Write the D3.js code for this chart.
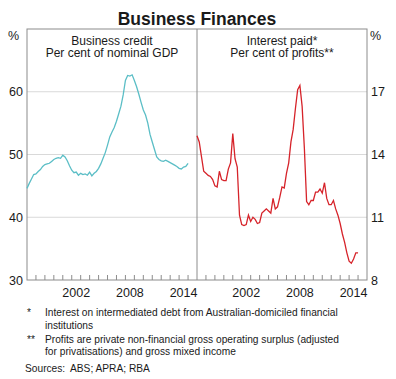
<!DOCTYPE html>
<html><head><meta charset="utf-8">
<script src="https://cdn.jsdelivr.net/npm/d3@7"></script>
<style>
html,body{margin:0;padding:0;background:#fff;}
svg text{font-family:"Liberation Sans",Arial,sans-serif;fill:#1a1a1a;}
</style></head>
<body><svg id="c" width="396" height="379"></svg>
<script>
// ---- Data ----
const quarters = [
1997.00,1997.25,1997.50,1997.75,1998.00,1998.25,1998.50,1998.75,
1999.00,1999.25,1999.50,1999.75,2000.00,2000.25,2000.50,2000.75,
2001.00,2001.25,2001.50,2001.75,2002.00,2002.25,2002.50,2002.75,
2003.00,2003.25,2003.50,2003.75,2004.00,2004.25,2004.50,2004.75,
2005.00,2005.25,2005.50,2005.75,2006.00,2006.25,2006.50,2006.75,
2007.00,2007.25,2007.50,2007.75,2008.00,2008.25,2008.50,2008.75,
2009.00,2009.25,2009.50,2009.75,2010.00,2010.25,2010.50,2010.75,
2011.00,2011.25,2011.50,2011.75,2012.00,2012.25,2012.50,2012.75,
2013.00,2013.25,2013.50,2013.75,2014.00,2014.25,2014.50,2014.75,
2015.00];
const businessCredit = [
44.6,45.4,46.1,46.8,46.9,47.3,47.6,48.1,
48.4,48.5,48.6,48.9,49.2,49.4,49.5,49.4,
49.9,49.6,49.0,48.2,47.5,47.1,47.2,46.7,
47.0,46.8,46.9,46.7,47.2,46.6,47.0,47.3,
47.8,48.5,49.4,50.3,51.5,52.8,53.6,54.3,
55.3,56.5,57.7,59.5,61.8,62.6,62.5,62.7,
61.8,60.8,59.6,58.3,57.1,56.3,55.0,53.2,
52.0,50.8,49.6,49.2,49.0,48.9,49.1,48.9,
48.7,48.5,48.3,48.1,47.8,47.7,48.0,48.1,
48.6];
const interestPaid = [
14.9,14.6,13.9,13.2,13.1,13.0,12.95,12.8,
12.5,12.45,13.2,12.8,12.75,12.75,13.3,13.6,
15.0,13.8,13.4,11.1,10.65,10.6,10.65,11.1,
10.8,11.0,10.9,10.7,10.75,11.2,11.3,11.4,
11.3,11.2,11.9,11.4,11.5,11.95,12.45,12.4,
13.1,13.6,14.6,15.2,16.2,17.1,17.3,16.3,
14.3,11.75,11.6,11.8,11.8,12.2,12.2,12.35,
12.15,12.65,11.9,11.6,11.6,11.8,11.4,11.1,
10.7,10.2,9.8,9.3,8.9,8.8,9.0,9.3,
9.3];
const leftTicks = [30,40,50,60];
const rightTicks = [8,11,14,17];
const yearLabels = [2002,2008,2014];
const title = "Business Finances";
const leftTitle = ["Business credit","Per cent of nominal GDP"];
const rightTitle = ["Interest paid*","Per cent of profits**"];
const notes = [
  ["*", ["Interest on intermediated debt from Australian-domiciled financial","institutions"]],
  ["**", ["Profits are private non-financial gross operating surplus (adjusted","for privatisations) and gross mixed income"]]
];
const sourcesLabel = "Sources:";
const sources = "ABS; APRA; RBA";

// ---- Layout ----
const svg = d3.select("#c");
const L = 27, M = 197, R = 367, T = 29, B = 280;
const xL = d3.scaleLinear().domain([1997,2016]).range([L,M]);
const xR = d3.scaleLinear().domain([1997,2016]).range([M,R]);
const yL = d3.scaleLinear().domain([30,70]).range([B,T]);
const yR = d3.scaleLinear().domain([8,20]).range([B,T]);

// gridlines
svg.append("g").selectAll("line").data(leftTicks.slice(1)).join("line")
  .attr("x1",L).attr("x2",R).attr("y1",d=>yL(d)).attr("y2",d=>yL(d))
  .attr("stroke","#d9d9d9").attr("stroke-width",1);

// x ticks
const years = d3.range(1998,2016);
[xL,xR].forEach(x=>{
  svg.append("g").selectAll("line").data(years).join("line")
    .attr("x1",d=>x(d)).attr("x2",d=>x(d)).attr("y1",B).attr("y2",B-5)
    .attr("stroke","#8c8c8c").attr("stroke-width",1);
  svg.append("g").selectAll("text").data(yearLabels).join("text")
    .attr("x",d=>x(d+0.5)).attr("y",297).attr("text-anchor","middle")
    .attr("font-size",12.5).text(d=>d);
});

// frame
svg.append("rect").attr("x",L).attr("y",T).attr("width",R-L).attr("height",B-T)
  .attr("fill","none").attr("stroke","#8c8c8c").attr("stroke-width",1);
svg.append("line").attr("x1",M).attr("x2",M).attr("y1",T).attr("y2",B)
  .attr("stroke","#8c8c8c").attr("stroke-width",1);

// y labels
svg.append("g").selectAll("text").data(leftTicks).join("text")
  .attr("x",23).attr("y",d=>yL(d)+4.5).attr("text-anchor","end")
  .attr("font-size",12.5).text(d=>d);
svg.append("g").selectAll("text").data(rightTicks).join("text")
  .attr("x",371).attr("y",d=>yR(d)+4.5).attr("text-anchor","start")
  .attr("font-size",12.5).text(d=>d);
svg.append("text").attr("x",19).attr("y",40).attr("text-anchor","end").attr("font-size",12.5).text("%");
svg.append("text").attr("x",370).attr("y",40).attr("font-size",12.5).text("%");

// lines
const lineL = d3.line().x((d,i)=>xL(quarters[i])).y(d=>yL(d));
const lineR = d3.line().x((d,i)=>xR(quarters[i])).y(d=>yR(d));
svg.append("path").datum(businessCredit).attr("d",lineL)
  .attr("fill","none").attr("stroke","#5bbec6").attr("stroke-width",1.3);
svg.append("path").datum(interestPaid).attr("d",lineR)
  .attr("fill","none").attr("stroke","#d6232a").attr("stroke-width",1.3);

// titles
svg.append("text").attr("x",197).attr("y",25).attr("text-anchor","middle")
  .attr("font-size",17.5).attr("font-weight","bold").text(title);
[[leftTitle,(L+M)/2],[rightTitle,(M+R)/2]].forEach(([t,cx])=>{
  svg.append("text").attr("x",cx).attr("y",44.5).attr("text-anchor","middle").attr("font-size",12).text(t[0]);
  svg.append("text").attr("x",cx).attr("y",57).attr("text-anchor","middle").attr("font-size",12).text(t[1]);
});

// notes
let yy = 316;
notes.forEach(([m,lines])=>{
  svg.append("text").attr("x",27).attr("y",yy).attr("font-size",10.2).text(m);
  lines.forEach((ln,i)=>{
    svg.append("text").attr("x",45).attr("y",yy+i*12.5).attr("font-size",10.2).text(ln);
  });
  yy += lines.length*12.5 + 1.5;
});
svg.append("text").attr("x",25).attr("y",372).attr("font-size",10.2).text(sourcesLabel);
svg.append("text").attr("x",70).attr("y",372).attr("font-size",10.2).text(sources);
</script></body></html>
